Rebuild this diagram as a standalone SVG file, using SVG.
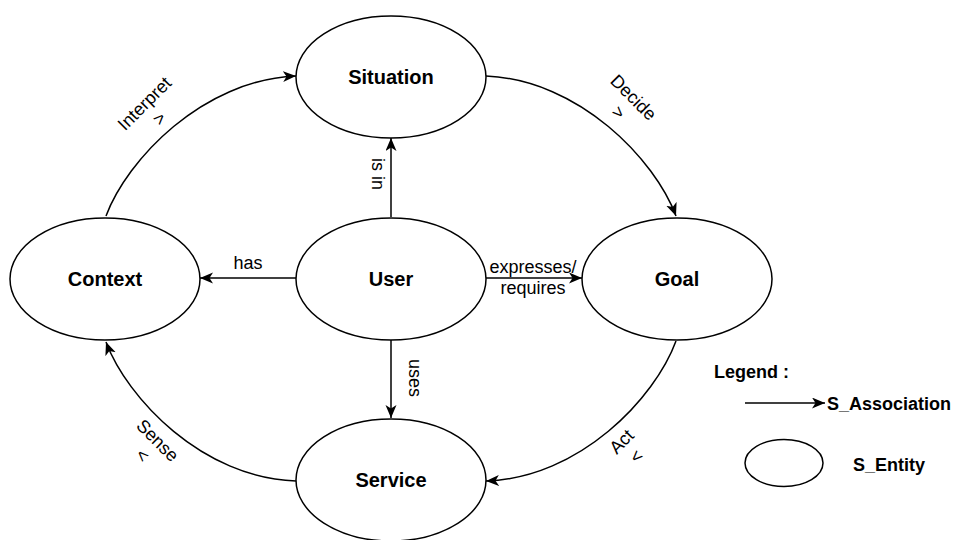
<svg xmlns="http://www.w3.org/2000/svg" width="956" height="540" viewBox="0 0 956 540">
<style>
.node ellipse{fill:#fff;stroke:#000;stroke-width:1.5}
.nl{font-family:"Liberation Sans",Arial,sans-serif;font-size:20px;font-weight:bold;text-anchor:middle;fill:#000}
.el{font-family:"Liberation Sans",Arial,sans-serif;font-size:18px;text-anchor:middle;fill:#000}
.lg{font-family:"Liberation Sans",Arial,sans-serif;font-size:18px;font-weight:bold;fill:#000}
.edge{fill:none;stroke:#000;stroke-width:1.5;marker-end:url(#arr)}
</style>
<defs>
<marker id="arr" markerUnits="userSpaceOnUse" markerWidth="14" markerHeight="12" refX="13" refY="5.5" orient="auto">
<path d="M0,0 L13,5.5 L0,11 L3.5,5.5 Z" fill="#000"/>
</marker>
</defs>
<rect width="956" height="540" fill="#fff"/>
<g id="connectors">
<path class="edge" d="M106,216 C127,160 202,80 296,76"/>
<path class="edge" d="M486,76 C580,80 655,160 676,216"/>
<path class="edge" d="M676,341 C655,398 580,478 486,481"/>
<path class="edge" d="M296,481 C202,478 127,398 106,342"/>
<path class="edge" d="M296,278 L200,278"/>
<path class="edge" d="M486,278 L582,278"/>
<path class="edge" d="M391,217 L391,138"/>
<path class="edge" d="M391,340 L391,418"/>
<g transform="translate(152,111) rotate(-45)"><text class="el" x="0" y="-4.5">Interpret</text><text class="el" x="0" y="16.5">&gt;</text></g>
<g transform="translate(626,105) rotate(45)"><text class="el" x="0" y="-4.5">Decide</text><text class="el" x="0" y="16.5">&gt;</text></g>
<g transform="translate(150,448) rotate(45)"><text class="el" x="0" y="-4.5">Sense</text><text class="el" x="0" y="16.5">&lt;</text></g>
<g transform="translate(629,449) rotate(-45)"><text class="el" x="0" y="-4.5">Act</text><text class="el" x="0" y="16.5">&lt;</text></g>
<text class="el" x="248" y="269">has</text>
<text class="el" x="533" y="273">expresses/</text>
<text class="el" x="533" y="294">requires</text>
<g transform="translate(377,174) rotate(90)"><text class="el" x="0" y="5">is in</text></g>
<g transform="translate(414,378) rotate(90)"><text class="el" x="0" y="5">uses</text></g>
</g>
<g id="situation" class="node"><ellipse cx="391" cy="77" rx="95" ry="61"/><text class="nl" x="391" y="84">Situation</text></g>
<g id="user" class="node"><ellipse cx="391" cy="279" rx="95" ry="61"/><text class="nl" x="391" y="286">User</text></g>
<g id="service" class="node"><ellipse cx="391" cy="480" rx="95" ry="61"/><text class="nl" x="391" y="487">Service</text></g>
<g id="context" class="node"><ellipse cx="105" cy="279" rx="95" ry="61"/><text class="nl" x="105" y="286">Context</text></g>
<g id="goal" class="node"><ellipse cx="677" cy="279" rx="95" ry="61"/><text class="nl" x="677" y="286">Goal</text></g>
<g id="legend">
<text class="lg" x="714" y="378">Legend :</text>
<path class="edge" d="M745,403 L825,403"/>
<text class="lg" x="827" y="410">S_Association</text>
<ellipse cx="784" cy="463" rx="39" ry="23.5" fill="#fff" stroke="#000" stroke-width="1.5"/>
<text class="lg" x="853" y="471">S_Entity</text>
</g>
</svg>
